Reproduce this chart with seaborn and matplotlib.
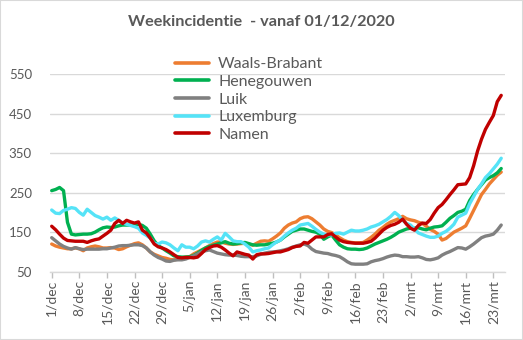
import numpy as np
import pandas as pd
import matplotlib
matplotlib.use("Agg")
import matplotlib.pyplot as plt
from matplotlib.patches import Rectangle
import seaborn as sns

# Week incidence per 100k, daily from 1 Dec 2020 (day 0) to 25 Mar 2021
waals_brabant = [120, 115, 112, 110, 108, 108, 110, 108, 103, 110, 113, 115, 113, 110, 110, 111, 110, 106, 108, 113,
                 117, 121, 123, 118, 110, 100, 94, 90, 86, 84, 81, 80, 82, 85, 87, 88, 95, 100, 105, 110,
                 116, 121, 125, 125, 122, 120, 119, 120, 121, 122, 120, 117, 122, 127, 128, 127, 133, 140, 148, 160,
                 168, 173, 176, 184, 188, 189, 184, 176, 168, 158, 152, 149, 143, 136, 130, 126, 124, 123, 123, 124,
                 130, 137, 145, 155, 162, 170, 176, 180, 184, 190, 184, 181, 179, 175, 172, 165, 157, 152, 145, 130,
                 134, 142, 150, 155, 160, 166, 185, 205, 225, 245, 258, 272, 283, 294, 302]
henegouwen = [255, 258, 263, 255, 175, 145, 143, 144, 145, 145, 146, 150, 156, 161, 163, 162, 163, 166, 168, 168,
              168, 169, 170, 167, 160, 145, 128, 116, 110, 103, 97, 90, 88, 87, 87, 88, 91, 97, 104, 110,
              114, 117, 120, 123, 126, 122, 120, 121, 123, 124, 121, 118, 117, 118, 118, 120, 122, 125, 130, 138,
              145, 152, 155, 158, 158, 155, 152, 150, 145, 132, 138, 143, 130, 118, 112, 108, 107, 107, 106, 107,
              110, 115, 120, 124, 128, 132, 137, 143, 150, 154, 158, 160, 160, 161, 158, 156, 160, 163, 164, 166,
              175, 185, 192, 200, 203, 208, 230, 245, 258, 270, 282, 288, 293, 300, 311]
luik = [136, 128, 120, 114, 110, 107, 111, 108, 106, 107, 107, 107, 107, 108, 108, 110, 112, 115, 116, 116,
        117, 118, 118, 116, 110, 100, 92, 86, 82, 77, 76, 79, 80, 80, 82, 86, 90, 95, 100, 103,
        105, 101, 97, 95, 93, 92, 92, 91, 89, 88, 88, 88, 90, 94, 97, 99, 100, 101, 103, 105,
        108, 112, 115, 118, 120, 116, 107, 101, 99, 97, 96, 93, 91, 88, 82, 75, 70, 69, 69, 69,
        70, 75, 78, 80, 83, 87, 90, 92, 91, 88, 88, 87, 87, 88, 85, 81, 80, 82, 85, 92,
        97, 101, 106, 111, 110, 107, 113, 120, 128, 136, 140, 142, 145, 155, 168]
luxemburg = [206, 198, 197, 205, 208, 212, 210, 200, 193, 208, 200, 192, 188, 183, 188, 180, 186, 180, 173, 170,
             167, 164, 160, 148, 142, 135, 122, 120, 125, 123, 118, 110, 103, 118, 112, 112, 108, 115, 125, 128,
             125, 132, 138, 130, 147, 138, 128, 126, 126, 120, 112, 100, 103, 105, 108, 110, 118, 125, 130, 140,
             148, 155, 160, 168, 170, 172, 165, 157, 150, 145, 143, 143, 147, 148, 145, 150, 155, 153, 153, 155,
             158, 163, 166, 170, 176, 182, 190, 200, 192, 180, 172, 168, 158, 148, 144, 140, 137, 137, 140, 147,
             152, 160, 170, 188, 193, 198, 222, 240, 258, 272, 288, 298, 310, 322, 337]
namen = [165, 156, 145, 135, 129, 128, 127, 127, 127, 124, 128, 131, 133, 140, 147, 155, 172, 180, 172, 180,
         176, 173, 176, 155, 148, 135, 120, 113, 110, 106, 100, 93, 86, 85, 86, 86, 85, 87, 96, 106,
         111, 115, 116, 112, 105, 97, 90, 100, 97, 94, 92, 82, 93, 95, 95, 96, 98, 100, 100, 103,
         106, 111, 114, 115, 124, 122, 130, 138, 138, 138, 144, 146, 138, 130, 126, 124, 123, 122, 122, 122,
         124, 127, 135, 145, 155, 162, 167, 170, 175, 183, 170, 160, 155, 167, 173, 172, 182, 198, 212, 220,
         232, 245, 257, 270, 271, 272, 288, 318, 355, 385, 410, 428, 445, 480, 496]

regions = ["Waals-Brabant", "Henegouwen", "Luik", "Luxemburg", "Namen"]
colors = ["#ED7D31", "#00B050", "#808080", "#55E3F7", "#C00000"]
tick_labels = ["1/dec", "8/dec", "15/dec", "22/dec", "29/dec", "5/jan", "12/jan", "19/jan", "26/jan",
               "2/feb", "9/feb", "16/feb", "23/feb", "2/mrt", "9/mrt", "16/mrt", "23/mrt"]
y_ticks = [50, 150, 250, 350, 450, 550]

series = [waals_brabant, henegouwen, luik, luxemburg, namen]
frames = []
for name, vals in zip(regions, series):
    frames.append(pd.DataFrame({"dag": np.arange(len(vals)), "incidentie": vals, "provincie": name}))
df = pd.concat(frames, ignore_index=True)

sns.set_style("white")
plt.rcParams["font.family"] = ["Lato", "DejaVu Sans"]
text_col = "#595959"
grid_col = "#D9D9D9"

W, H = 523, 340
fig = plt.figure(figsize=(W / 100, H / 100), dpi=100)
left, right, top, bottom = 50, 505, 74, 271.7
ax = fig.add_axes([left / W, 1 - bottom / H, (right - left) / W, (bottom - top) / H])

sns.lineplot(data=df, x="dag", y="incidentie", hue="provincie", hue_order=regions,
             palette=dict(zip(regions, colors)), linewidth=2.4, ax=ax, legend=True)

ax.set_xlim(-0.43, 114.96)
ax.set_ylim(50, 550)
ax.set_yticks(y_ticks)
ax.set_yticklabels([str(v) for v in y_ticks])
ax.set_xticks(np.arange(0, 7 * len(tick_labels), 7))
ax.set_xticklabels(tick_labels, rotation=90)
ax.set_xlabel("")
ax.set_ylabel("")

ax.grid(axis="y", color=grid_col, linewidth=1)
ax.set_axisbelow(True)
for s in ["top", "right", "left"]:
    ax.spines[s].set_visible(False)
ax.spines["bottom"].set_color(grid_col)
ax.spines["bottom"].set_linewidth(1)
ax.tick_params(axis="x", direction="out", length=4, color="#BFBFBF", width=1,
               labelsize=10, labelcolor=text_col, pad=2, bottom=True)
ax.tick_params(axis="y", length=0, labelsize=9.5, labelcolor=text_col, pad=13)

handles, labels = ax.get_legend_handles_labels()
leg = ax.legend(handles, labels, loc="upper left", bbox_to_anchor=(167 / W, 1 - 49 / H),
                bbox_transform=fig.transFigure, frameon=False, fontsize=11.5,
                handlelength=2.15, handletextpad=0.55, labelspacing=0.22, borderpad=0)
for t in leg.get_texts():
    t.set_color(text_col)
for h in leg.get_lines():
    h.set_linewidth(2.6)

fig.text(0.5, 1 - 22 / H, "Weekincidentie  - vanaf 01/12/2020", ha="center", va="center",
         fontsize=11.7, fontweight="bold", color=text_col)

fig.patches.append(Rectangle((0, 0), 1, 1, transform=fig.transFigure, fill=False,
                             edgecolor=grid_col, linewidth=1.5))

fig.savefig("out.png", dpi=100)
